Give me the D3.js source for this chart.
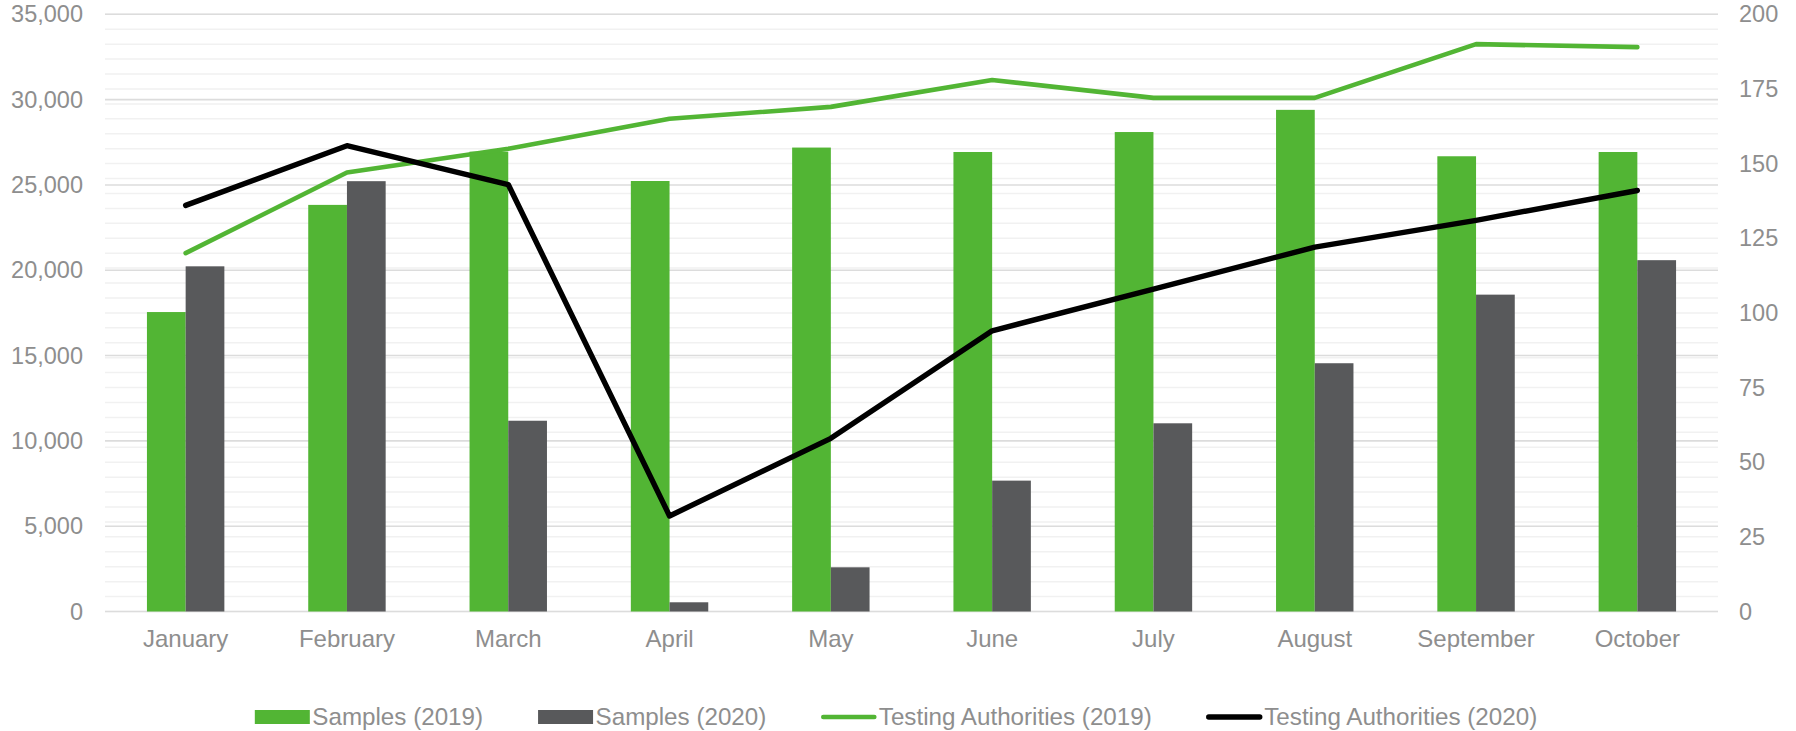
<!DOCTYPE html>
<html>
<head>
<meta charset="utf-8">
<script src="https://cdn.jsdelivr.net/npm/d3@7"></script>
<style>
  html, body { margin: 0; padding: 0; background: #ffffff; }
  svg { display: block; }
  text { font-family: "Liberation Sans", Arial, Helvetica, sans-serif; }
</style>
</head>
<body>
<div id="chart"></div>
<script>
// ---- data ----
const months = ["January", "February", "March", "April", "May", "June", "July", "August", "September", "October"];
const samples2019 = [17550, 23830, 26950, 25230, 27190, 26930, 28100, 29400, 26680, 26930];
const samples2020 = [20230, 25220, 11180, 540, 2590, 7670, 11030, 14550, 18570, 20590];
const authorities2019 = [120, 147, 155, 165, 169, 178, 172, 172, 190, 189];
const authorities2020 = [136, 156, 143, 32, 58, 94, 108, 122, 131, 141];
const leftTicks = [0, 5000, 10000, 15000, 20000, 25000, 30000, 35000];
const rightTicks = [0, 25, 50, 75, 100, 125, 150, 175, 200];
const legendLabels = ["Samples (2019)", "Samples (2020)", "Testing Authorities (2019)", "Testing Authorities (2020)"];

// ---- layout ----
const W = 1796, H = 731;
const plot = { left: 105, right: 1718, top: 14.3, bottom: 611.5 };
const GREEN = "#52b534", GRAY = "#58595b", BLACK = "#000000", TEXT = "#8e8e8e";
const FONT = 23.5;

const svg = d3.select("#chart").append("svg").attr("width", W).attr("height", H);

const x = d3.scaleBand().domain(months).range([plot.left, plot.right])
  .paddingInner(0.52).paddingOuter(0.26);
const xs = d3.scaleBand().domain(["2019", "2020"]).range([0, x.bandwidth()]);
const yL = d3.scaleLinear().domain([0, 35000]).range([plot.bottom, plot.top]);
const yR = d3.scaleLinear().domain([0, 200]).range([plot.bottom, plot.top]);

// minor gridlines (right axis, every 5)
const minor = d3.range(0, 201, 5);
svg.append("g").selectAll("line").data(minor).join("line")
  .attr("x1", plot.left).attr("x2", plot.right)
  .attr("y1", d => yR(d)).attr("y2", d => yR(d))
  .attr("stroke", "#f1f1f1").attr("stroke-width", 1.5);

// major gridlines (left axis)
svg.append("g").selectAll("line").data(leftTicks).join("line")
  .attr("x1", plot.left).attr("x2", plot.right)
  .attr("y1", d => yL(d)).attr("y2", d => yL(d))
  .attr("stroke", "#dcdcdc").attr("stroke-width", 1.6);

// left axis
const axL = d3.axisLeft(yL).tickValues(leftTicks).tickFormat(d3.format(",")).tickSize(0).tickPadding(22);
const gL = svg.append("g").attr("transform", `translate(${plot.left},0)`).call(axL);
gL.select(".domain").remove();
gL.selectAll("text").attr("fill", TEXT).style("font-size", FONT + "px")
  .style("font-family", '"Liberation Sans", Arial, sans-serif');

// right axis
const axR = d3.axisRight(yR).tickValues(rightTicks).tickSize(0).tickPadding(21);
const gR = svg.append("g").attr("transform", `translate(${plot.right},0)`).call(axR);
gR.select(".domain").remove();
gR.selectAll("text").attr("fill", TEXT).style("font-size", FONT + "px")
  .style("font-family", '"Liberation Sans", Arial, sans-serif');

// bottom axis
const axB = d3.axisBottom(x).tickSize(0).tickPadding(18);
const gB = svg.append("g").attr("transform", `translate(0,${plot.bottom})`).call(axB);
gB.select(".domain").remove();
gB.selectAll("text").attr("fill", TEXT).style("font-size", "24px")
  .style("font-family", '"Liberation Sans", Arial, sans-serif');

// bars
const barData = months.map((m, i) => ({ m, a: samples2019[i], b: samples2020[i] }));
const gBars = svg.append("g");
gBars.selectAll("rect.s19").data(barData).join("rect").attr("class", "s19")
  .attr("x", d => x(d.m) + xs("2019")).attr("width", xs.bandwidth())
  .attr("y", d => yL(d.a)).attr("height", d => yL(0) - yL(d.a))
  .attr("fill", GREEN);
gBars.selectAll("rect.s20").data(barData).join("rect").attr("class", "s20")
  .attr("x", d => x(d.m) + xs("2020")).attr("width", xs.bandwidth())
  .attr("y", d => yL(d.b)).attr("height", d => yL(0) - yL(d.b))
  .attr("fill", GRAY);

// lines
const cx = m => x(m) + x.bandwidth() / 2;
const line = d3.line().x((d, i) => cx(months[i])).y(d => yR(d));
svg.append("path").datum(authorities2019).attr("d", line)
  .attr("fill", "none").attr("stroke", GREEN).attr("stroke-width", 4.6)
  .attr("stroke-linejoin", "round").attr("stroke-linecap", "round");
svg.append("path").datum(authorities2020).attr("d", line)
  .attr("fill", "none").attr("stroke", BLACK).attr("stroke-width", 5.4)
  .attr("stroke-linejoin", "round").attr("stroke-linecap", "round");

// legend
const legY = 717;
const LFONT = 24.2;
const legend = svg.append("g");
const kinds = [
  { type: "rect", color: GREEN }, { type: "rect", color: GRAY },
  { type: "line", color: GREEN, w: 4.6 }, { type: "line", color: BLACK, w: 5.4 }
];
const swW = 55, swGap = 2.5, itemGap = 55;
const items = legendLabels.map((lab, i) => {
  const t = legend.append("text").text(lab).style("font-size", LFONT + "px").attr("fill", TEXT)
    .attr("dy", "0.35em").attr("y", legY);
  const w = t.node().getComputedTextLength();
  return { t, w, k: kinds[i] };
});
const total = d3.sum(items, d => swW + swGap + d.w) + itemGap * (items.length - 1);
let cur = 896 - total / 2;
items.forEach(it => {
  if (it.k.type === "rect") {
    legend.append("rect").attr("x", cur).attr("y", legY - 7).attr("width", swW).attr("height", 14)
      .attr("fill", it.k.color);
  } else {
    legend.append("line").attr("x1", cur + 2).attr("x2", cur + swW - 2)
      .attr("y1", legY).attr("y2", legY)
      .attr("stroke", it.k.color).attr("stroke-width", it.k.w).attr("stroke-linecap", "round");
  }
  it.t.attr("x", cur + swW + swGap);
  cur += swW + swGap + it.w + itemGap;
});
</script>
</body>
</html>
